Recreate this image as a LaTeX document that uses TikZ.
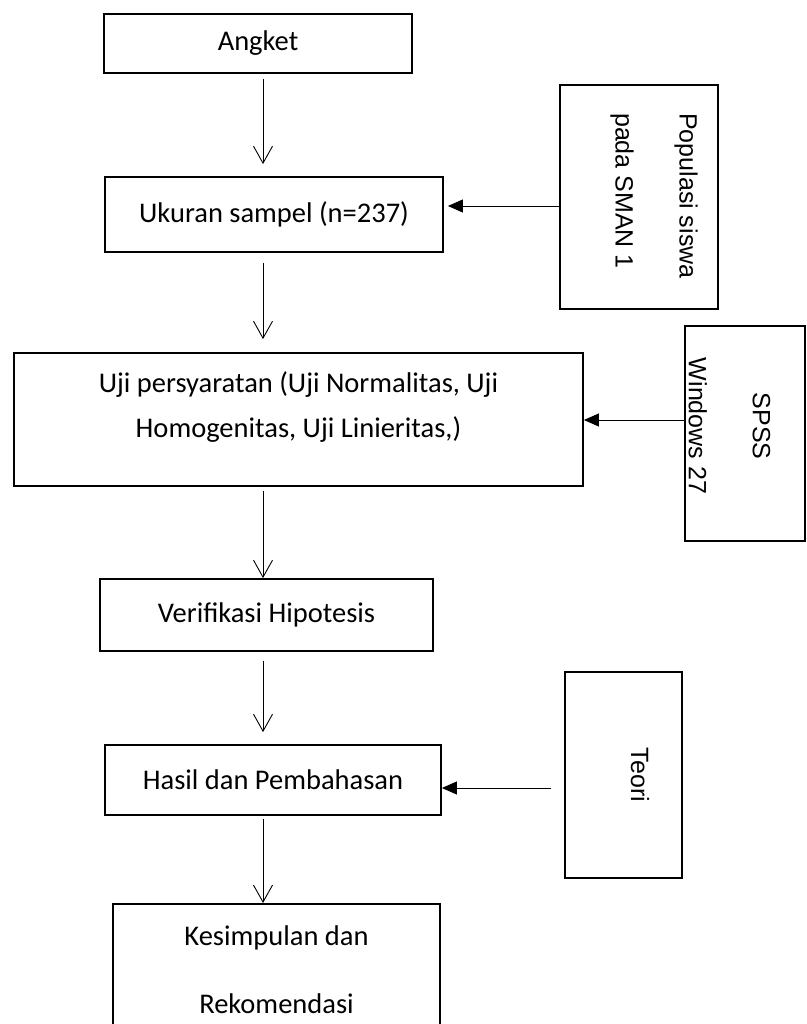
\documentclass[tikz,border=0pt]{standalone}
\usepackage{fontspec}
\setmainfont{Carlito}
\newfontfamily\sidefont{Liberation Sans}
\usetikzlibrary{arrows.meta}
\tikzset{box/.style = {shape=rectangle,draw,line width=1.8pt,inner sep=0pt,align=center,font=\fontsize{28.5}{34}\selectfont}}
\tikzset{side/.style = {shape=rectangle,draw,line width=1.8pt,inner sep=0pt}}
\tikzset{sidetext/.style = {rotate=-90,inner sep=0pt,font=\sidefont\fontsize{25}{64}\selectfont}}
\tikzset{down/.style = {-{Straight Barb[length=17pt,width=19pt]},line width=0.9pt}}
\tikzset{feed/.style = {-{Triangle[length=15pt,width=13pt]},line width=0.9pt}}

\begin{document}
\begin{tikzpicture}[x=1pt,y=-1pt]
            \fill[white] (0,0) rectangle (806,1024);
            \useasboundingbox (0,0) rectangle (806,1024);
            \clip (0,0) rectangle (806,1024);

            % Main boxes
            \node[box,minimum width=308pt,minimum height=59pt] (ang) at (258,43.5) {Angket};
            \node[box,minimum width=338pt,minimum height=75pt] (uk) at (274,214.5) {Ukuran sampel (n=237)};
            \node[box,minimum width=569pt,minimum height=133pt,text depth=30pt] (uji) at (298.5,419.5) {Uji persyaratan (Uji Normalitas, Uji\\[11pt]Homogenitas, Uji Linieritas,)};
            \node[box,minimum width=333pt,minimum height=72pt] (ver) at (266.5,615) {Verifikasi Hipotesis};
            \node[box,minimum width=336pt,minimum height=70pt] (has) at (273,780) {Hasil dan Pembahasan};
            \node[box,minimum width=327pt,minimum height=132pt,anchor=north] (kes) at (276.5,903) {Kesimpulan dan\\[34pt]Rekomendasi};

            % Side boxes
            \node[side,minimum width=158pt,minimum height=224pt] (pop) at (639,197) {};
            \node[sidetext,anchor=west,align=left] (popt) at (654,113) {Populasi siswa\\pada SMAN 1};
            \node[side,minimum width=120pt,minimum height=215pt] (spss) at (745,433.5) {};
            \node[sidetext,align=center] (spsst) at (729.5,426) {SPSS\\Windows 27};
            \node[side,minimum width=117pt,minimum height=206pt] (teori) at (623.5,775) {};
            \node[sidetext] (teorit) at (640,775) {Teori};

            % Arrows
            \coordinate (spine) at (263,0);
            \draw[down,shorten <=5pt,shorten >=12pt] (ang.south -| spine) -- (uk.north -| spine);
            \draw[down,shorten <=10pt,shorten >=13pt] (uk.south -| spine) -- (uji.north -| spine);
            \draw[down,shorten <=4pt] (uji.south -| spine) -- (ver.north -| spine);
            \draw[down,shorten <=9pt,shorten >=12pt] (ver.south -| spine) -- (has.north -| spine);
            \draw[down,shorten <=3pt] (has.south -| spine) -- (kes.north -| spine);

            \draw[feed,shorten >=4pt] ([yshift=-9pt]pop.west) -- ([yshift=-9pt]pop.west -| uk.east);
            \draw[feed] ([yshift=13.5pt]spss.west) -- ([yshift=13.5pt]spss.west -| uji.east);
            \draw[feed,shorten <=13pt] ([yshift=-13pt]teori.west) -- ([yshift=-13pt]teori.west -| has.east);

        \end{tikzpicture}
\end{document}
